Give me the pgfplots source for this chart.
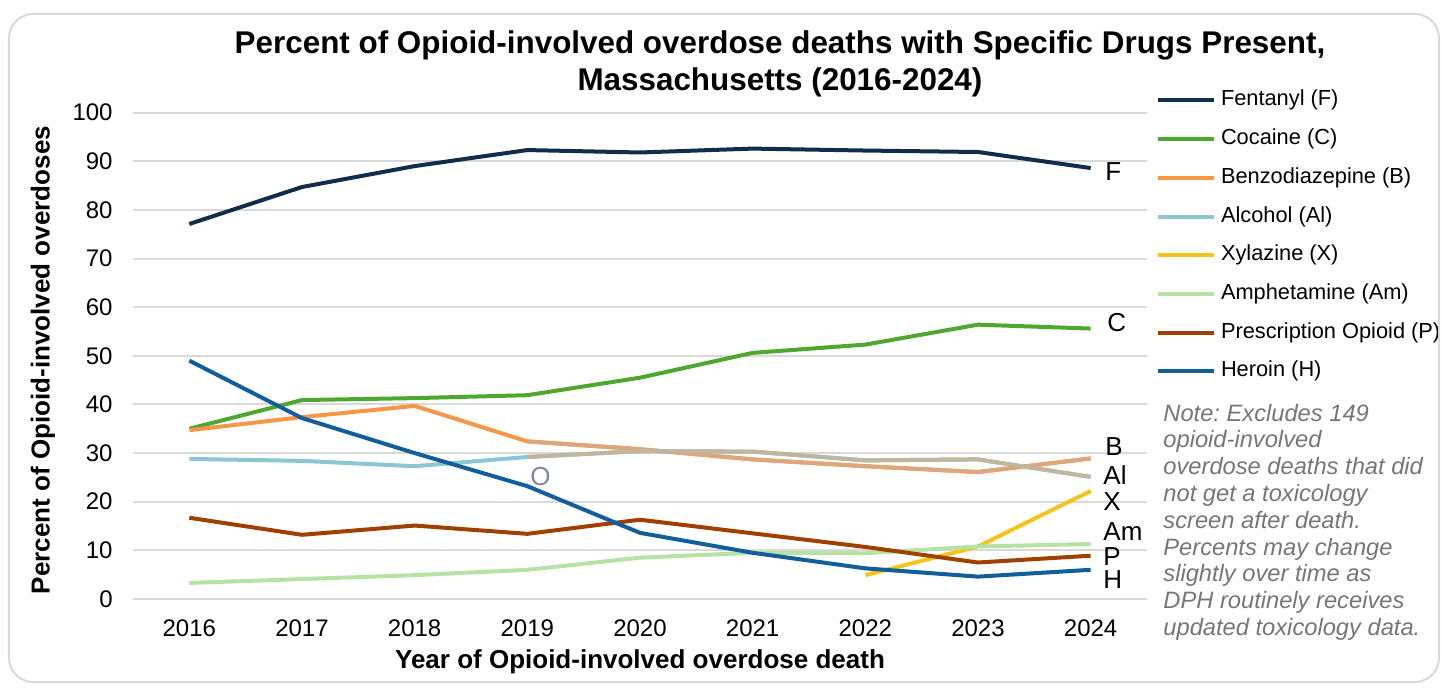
\documentclass[border=0pt]{standalone}
\usepackage{fontspec}
\setmainfont{Liberation Sans}
\usepackage{pgfplots}
\pgfplotsset{compat=1.18}
\frenchspacing
\definecolor{fent}{RGB}{16,45,76}
\definecolor{coc}{RGB}{78,167,46}
\definecolor{benz}{RGB}{247,150,70}
\definecolor{benzt}{RGB}{222,166,124}
\definecolor{alc}{RGB}{140,198,212}
\definecolor{alct}{RGB}{192,182,158}
\definecolor{xyl}{RGB}{242,196,28}
\definecolor{amph}{RGB}{182,226,164}
\definecolor{presc}{RGB}{160,64,0}
\definecolor{her}{RGB}{18,94,154}
\definecolor{gridc}{RGB}{217,217,217}
\definecolor{notec}{RGB}{118,118,118}
\definecolor{oc}{RGB}{128,138,150}
\begin{document}
\begin{tikzpicture}
\begin{axis}[
 scale only axis, width=507pt, height=243.2pt,
 xmin=2015.5, xmax=2024.5, ymin=0, ymax=100,
 xtick={2016,2017,2018,2019,2020,2021,2022,2023,2024},
 ytick={0,10,20,30,40,50,60,70,80,90,100},
 /pgf/number format/1000 sep={},
 /pgf/number format/assume math mode=true,
 axis line style={draw=none}, major tick length=0pt,
 ymajorgrids, grid style={gridc, line width=1pt},
 tick label style={font=\fontsize{12}{14}\selectfont, text=black},
 xticklabel style={anchor=center, yshift=-14.5pt},
 yticklabel style={anchor=east, inner sep=0pt, xshift=-10pt},
 every axis plot/.append style={line width=2pt, no markers, line join=round},
 clip=false,
 legend style={at={(rel axis cs:1.0089,1.0465)}, anchor=north west, draw=none, fill=none,
   inner sep=0pt, outer sep=0pt, row sep=8.85pt, font=\fontsize{10.9}{12}\selectfont,
   nodes={inner sep=0pt, text height=8pt, text depth=2.5pt},
   /tikz/every odd column/.append style={column sep=2.5pt}},
 legend cell align=left,
 legend image code/.code={\draw[#1, line width=2pt] (0pt,0pt) -- (28pt,0pt);},
]
\addplot[fent] coordinates {(2016,77.1) (2017,84.7) (2018,89.0) (2019,92.3) (2020,91.8) (2021,92.6) (2022,92.2) (2023,91.9) (2024,88.6)};
\addlegendentry{Fentanyl (F)}
\addplot[coc] coordinates {(2016,35.0) (2017,40.9) (2018,41.3) (2019,41.9) (2020,45.5) (2021,50.6) (2022,52.3) (2023,56.4) (2024,55.6)};
\addlegendentry{Cocaine (C)}
\addplot[benz] coordinates {(2016,34.7) (2017,37.4) (2018,39.7) (2019,32.4) (2020,30.8) (2021,28.7) (2022,27.3) (2023,26.1) (2024,28.9)};
\addlegendentry{Benzodiazepine (B)}
\addplot[alc] coordinates {(2016,28.8) (2017,28.4) (2018,27.3) (2019,29.2) (2020,30.4) (2021,30.3) (2022,28.5) (2023,28.7) (2024,25.1)};
\addlegendentry{Alcohol (Al)}
\addplot[xyl] coordinates {(2022,4.9) (2023,10.8) (2024,22.2)};
\addlegendentry{Xylazine (X)}
\addplot[amph] coordinates {(2016,3.3) (2017,4.1) (2018,4.9) (2019,6.0) (2020,8.5) (2021,9.5) (2022,9.4) (2023,10.8) (2024,11.3)};
\addlegendentry{Amphetamine (Am)}
\addplot[presc] coordinates {(2016,16.7) (2017,13.2) (2018,15.1) (2019,13.4) (2020,16.3) (2021,13.5) (2022,10.7) (2023,7.5) (2024,8.9)};
\addlegendentry{Prescription Opioid (P)}
\addplot[her] coordinates {(2016,49.0) (2017,37.2) (2018,30.0) (2019,23.2) (2020,13.6) (2021,9.5) (2022,6.3) (2023,4.6) (2024,6.0)};
\addlegendentry{Heroin (H)}
\addplot[benzt, forget plot] coordinates {(2019,32.4) (2020,30.8) (2021,28.7) (2022,27.3) (2023,26.1) (2024,28.9)};
\addplot[alct, forget plot] coordinates {(2019,29.2) (2020,30.4) (2021,30.3) (2022,28.5) (2023,28.7) (2024,25.1)};
\end{axis}
\begin{scope}[x=0.5pt,y=-0.5pt,shift={(-66.5pt,299.5pt)}]
\path (0,0) rectangle (1442,687);
\draw[gridc, line width=1pt, rounded corners=12pt] (9,14) rectangle (1439,682);
\node[font=\fontsize{15.7}{18}\selectfont\bfseries] at (780,45) {Percent of Opioid-involved overdose deaths with Specific Drugs Present,};
\node[font=\fontsize{15.7}{18}\selectfont\bfseries] at (780,82) {Massachusetts (2016-2024)};
\node[rotate=90, font=\fontsize{13}{15}\selectfont\bfseries] at (43,360) {Percent of Opioid-involved overdoses};
\node[font=\fontsize{13}{15}\selectfont\bfseries] at (640,662) {Year of Opioid-involved overdose death};
\node[anchor=base west, align=left, inner sep=0pt, text=notec, font=\fontsize{11.85}{13.4}\selectfont\itshape] at (1163,635.5) {Note: Excludes 149\\opioid-involved\\overdose deaths that did\\not get a toxicology\\screen after death.\\Percents may change\\slightly over time as\\DPH routinely receives\\updated toxicology data.};
\begin{scope}[every node/.style={anchor=west, inner sep=0pt, font=\fontsize{13}{15}\selectfont}]
\node at (1105,172) {F};
\node at (1107,323) {C};
\node at (1105,447) {B};
\node at (1103,475) {Al};
\node at (1103,502) {X};
\node at (1103,532) {Am};
\node at (1103,557) {P};
\node at (1103,580) {H};
\node[text=oc] at (530,477) {O};
\end{scope}
\end{scope}
\end{tikzpicture}
\end{document}
